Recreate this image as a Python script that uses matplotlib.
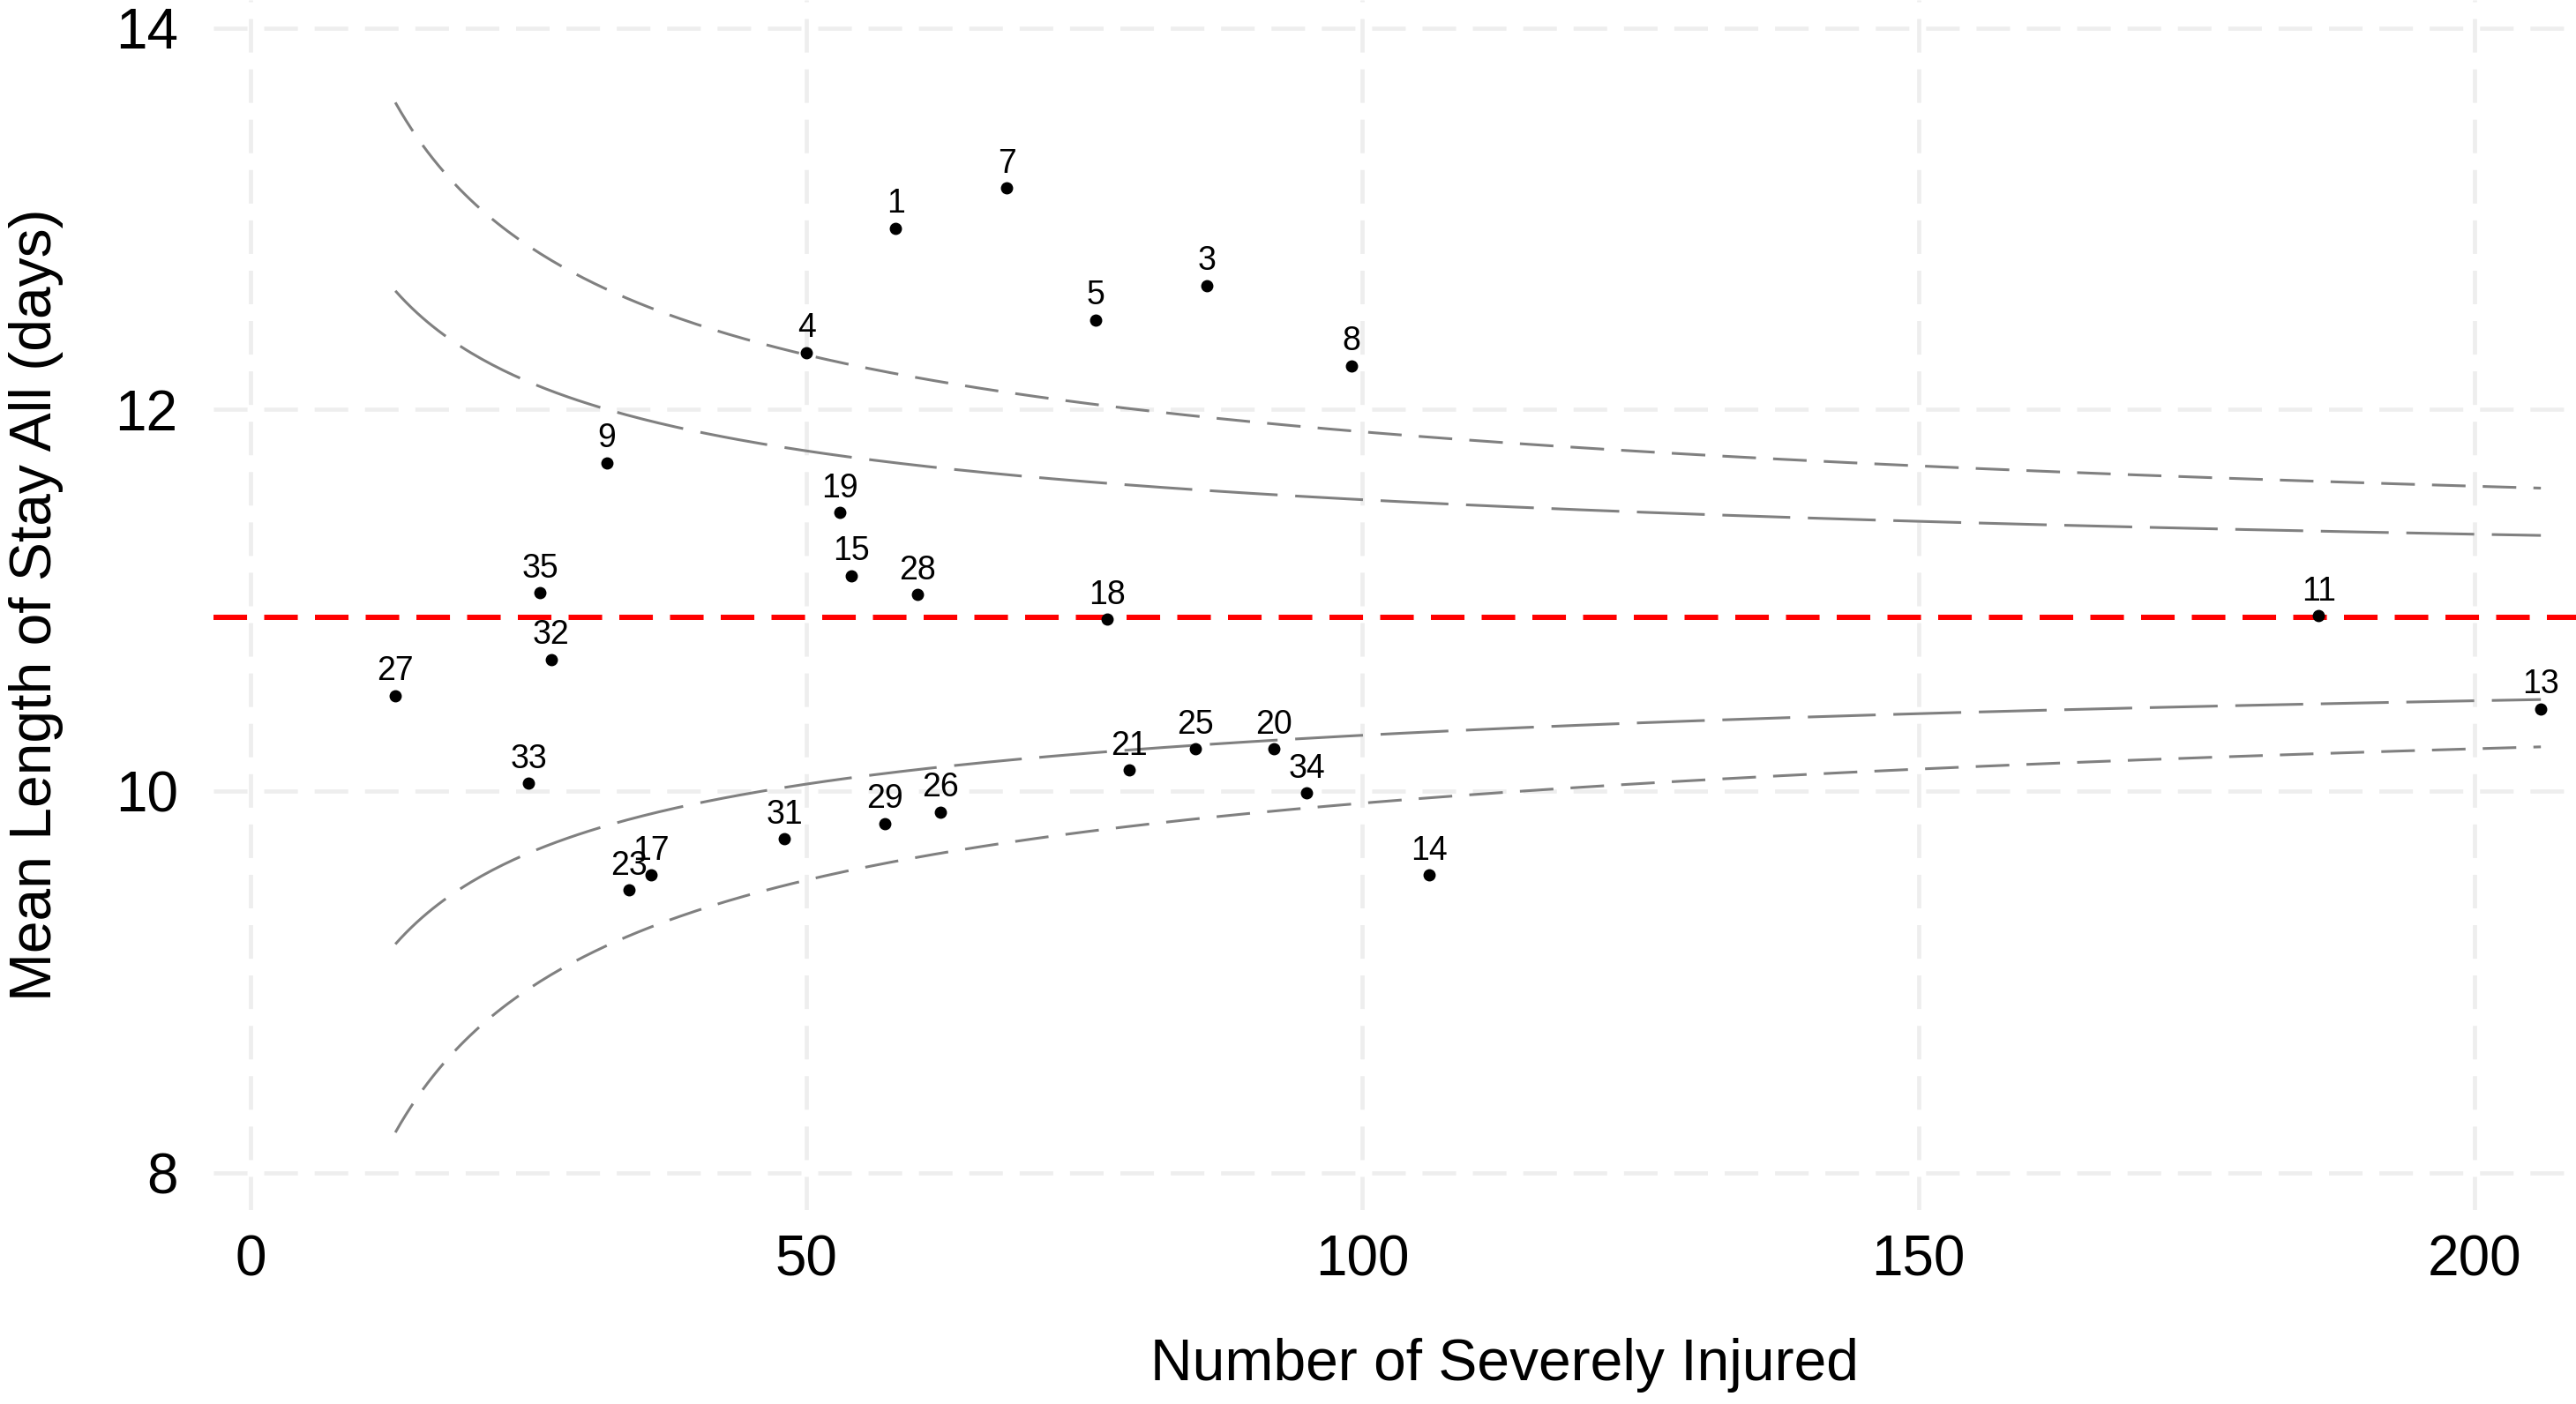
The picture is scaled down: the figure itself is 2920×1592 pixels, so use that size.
import numpy as np
import matplotlib
matplotlib.use("Agg")
import matplotlib.pyplot as plt

plt.rcParams['font.family'] = ['Liberation Sans', 'DejaVu Sans']
plt.rcParams['lines.scale_dashes'] = False

# hospitals: id, number of severely injured, mean length of stay
hosp_id = [1, 3, 4, 5, 7, 8, 9, 11, 13, 14, 15, 17, 18, 19, 20, 21, 23, 25,
           26, 27, 28, 29, 31, 32, 33, 34, 35]
n_injured = [58, 86, 50, 76, 68, 99, 32, 186, 206, 106, 54, 36, 77, 53, 92, 79, 34, 85,
             62, 13, 60, 57, 48, 27, 25, 95, 26]
mean_los = [12.95, 12.65, 12.30, 12.47, 13.16, 12.23, 11.72, 10.92, 10.43, 9.56, 11.13,
            9.56, 10.90, 11.46, 10.22, 10.11, 9.48, 10.22, 9.89, 10.50, 11.03, 9.83,
            9.75, 10.69, 10.04, 9.99, 11.04]

# funnel parameters
centre = 10.91
sigma = 3.15
z_inner = 1.96   # 95%
z_outer = 3.09   # 99.8%

n = np.linspace(min(n_injured), max(n_injured), 400)
se = sigma / np.sqrt(n)

W, H = 2920, 1592
fig = plt.figure(figsize=(W / 100, H / 100), dpi=100)
left, right, bottom = 242, 3170, 1372
ax = fig.add_axes([left / W, 1 - bottom / H, (right - left) / W, bottom / H])

ax.set_xlim(-3.36, 229)
ax.set_ylim(7.804, 14.147)

grey = '#808080'
ax.plot(n, centre + z_outer * se, color=grey, lw=2.2, ls=(0, (27.4, 14)), zorder=2)
ax.plot(n, centre - z_outer * se, color=grey, lw=2.2, ls=(0, (27.4, 14)), zorder=2)
ax.plot(n, centre + z_inner * se, color=grey, lw=2.2, ls=(0, (55.4, 14.4)), zorder=2)
ax.plot(n, centre - z_inner * se, color=grey, lw=2.2, ls=(0, (55.4, 14.4)), zorder=2)

ax.axhline(centre, color='#FF0000', lw=4.3, ls=(0, (27.4, 14)), zorder=3)

ax.plot(n_injured, mean_los, 'o', color='black', markersize=9, zorder=4)
for i, xv, yv in zip(hosp_id, n_injured, mean_los):
    ax.annotate(str(i), (xv, yv), xytext=(0, 12.6), textcoords='offset points',
                ha='center', va='baseline', fontsize=27, zorder=5)

ax.set_xticks([0, 50, 100, 150, 200])
ax.set_yticks([8, 10, 12, 14])
ax.grid(True, color='#EEEEEE', lw=3.4, ls=(0, (27.4, 13.7)), zorder=0)
ax.set_axisbelow(True)
for s in ax.spines.values():
    s.set_visible(False)
ax.tick_params(axis='both', length=0, labelsize=46, colors='black')
ax.tick_params(axis='x', pad=20)
ax.tick_params(axis='y', pad=29)

ax.set_xlabel('Number of Severely Injured', fontsize=47.5)
ax.set_ylabel('Mean Length of Stay All (days)', fontsize=47.5)
ax.xaxis.set_label_coords(0.5, -(1517 - bottom) / bottom)
ax.yaxis.set_label_coords(-(left - 72) / (right - left), 0.5)

fig.savefig('out.png', dpi=100, facecolor='white')
